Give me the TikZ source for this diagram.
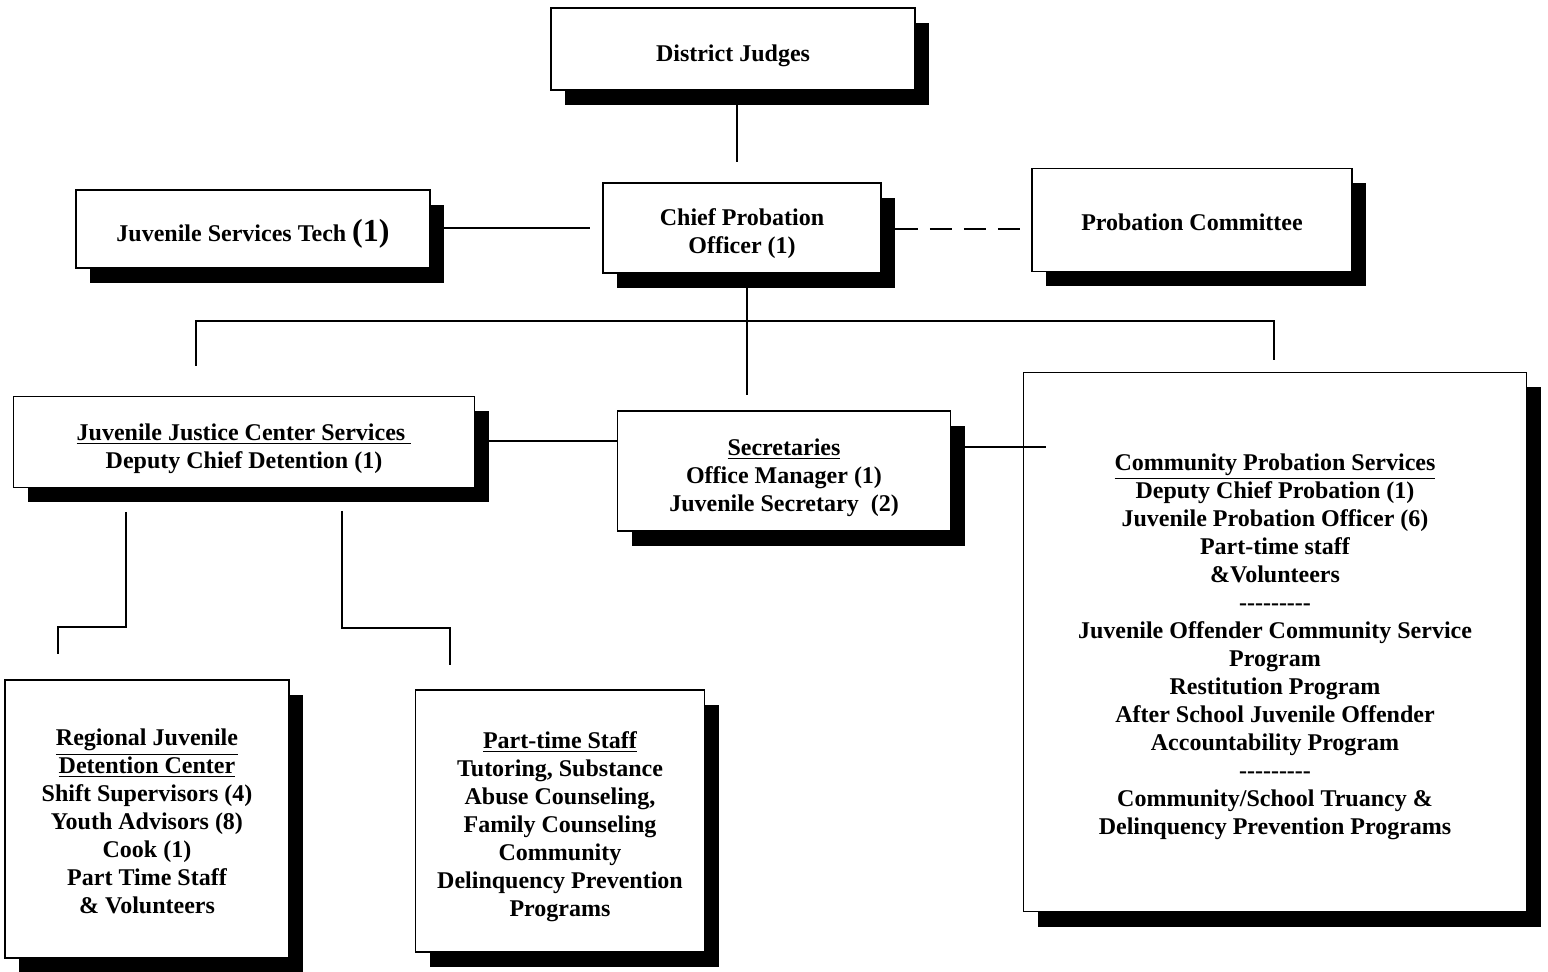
\documentclass[tikz,border=0pt]{standalone}
\usepackage{fontspec}
\setmainfont{Liberation Serif}
\usetikzlibrary{shadows,calc}
\newcommand{\dashline}{{-}{-}{-}{-}{-}{-}{-}{-}{-}}
\newcommand{\tp}[1][14pt]{\rule{0pt}{#1}}
\begin{document}
\begin{tikzpicture}[x=0.5pt,y=-0.5pt,
  box/.style={draw, line width=0.9pt, fill=white, align=center, inner sep=0pt,
    font=\bfseries\fontsize{12}{14}\selectfont,
    drop shadow={shadow xshift=7pt, shadow yshift=-7.5pt, fill=black, opacity=1}},
  conn/.style={line width=1.4pt}]
\useasboundingbox (0,0) rectangle (1548,972);

% boxes
\node[box, minimum width=182pt, minimum height=41pt] (DJ) at (733,49) {\tp[15pt]District Judges};
\node[box, minimum width=139pt, minimum height=45pt] (CPO) at (742,228) {\tp Chief Probation\\Officer (1)};
\node[box, minimum width=177pt, minimum height=39pt] (JST) at (253,229) {\tp[16pt]Juvenile Services Tech {\fontsize{16}{16}\selectfont(1)}};
\node[box, minimum width=160pt, minimum height=51.5pt] (PC) at (1192,220) {\tp[11pt]Probation Committee};
\node[box, minimum width=230.5pt, minimum height=45.5pt] (JJ) at (244,442) {\tp[15pt]\underline{Juvenile Justice Center Services\ }\\Deputy Chief Detention (1)};
\node[box, minimum width=166.5pt, minimum height=60pt] (SEC) at (784,471) {\tp[15pt]\underline{Secretaries}\\Office Manager (1)\\Juvenile Secretary\ \ (2)};
\node[box, minimum width=251.5pt, minimum height=269.5pt] (CPS) at (1275,642) {%
  \tp[13pt]\underline{Community Probation Services}\\
  Deputy Chief Probation (1)\\
  Juvenile Probation Officer (6)\\
  Part-time staff\\
  \&Volunteers\\
  \dashline\\
  Juvenile Offender Community Service\\
  Program\\
  Restitution Program\\
  After School Juvenile Offender\\
  Accountability Program\\
  \dashline\\
  Community/School Truancy \&\\
  Delinquency Prevention Programs};
\node[box, minimum width=142pt, minimum height=139pt] (RJ) at (147,819) {%
  \tp[11pt]\underline{Regional Juvenile}\\
  \underline{Detention Center}\\
  Shift Supervisors (4)\\
  Youth Advisors (8)\\
  Cook (1)\\
  Part Time Staff\\
  \& Volunteers};
\node[box, minimum width=144.5pt, minimum height=131pt] (PT) at (560,821) {%
  \tp[14pt]\underline{Part-time Staff}\\
  Tutoring, Substance\\
  Abuse Counseling,\\
  Family Counseling\\
  Community\\
  Delinquency Prevention\\
  Programs};

% free ends
\coordinate (djEnd) at (737,162);
\coordinate (jstEnd) at (590,228);
\coordinate (pcEnd) at (1021,229);
\coordinate (cpoEnd) at (747,395);
\coordinate (busL) at (196,321);
\coordinate (busR) at (1274,321);
\coordinate (dropL) at (196,366);
\coordinate (dropR) at (1274,360);
\coordinate (jjSec) at (617,441);
\coordinate (secEnd) at (1046,447);
\coordinate (l1) at (126,512);
\coordinate (l2) at (126,627);
\coordinate (l3) at (58,627);
\coordinate (l4) at (58,654);
\coordinate (r1) at (342,511);
\coordinate (r2) at (342,628);
\coordinate (r3) at (450,628);
\coordinate (r4) at (450,665);

% connectors
\draw[conn] (DJ.south -| djEnd) -- (djEnd);
\draw[conn] (JST.east |- jstEnd) -- (jstEnd);
\draw[conn, dash pattern=on 11pt off 6pt] ($(CPO.east |- pcEnd)+(14,0)$) -- (pcEnd);
\draw[conn] (CPO.east |- pcEnd) -- ++(30,0);
\draw[conn] (CPO.south -| cpoEnd) -- (cpoEnd);
\draw[conn] (dropL) -- (busL) -- (busR) -- (dropR);
\draw[conn] (JJ.east |- jjSec) -- (SEC.west |- jjSec);
\draw[conn] (SEC.east |- secEnd) -- (secEnd);
\draw[conn] (l1) -- (l2) -- (l3) -- (l4);
\draw[conn] (r1) -- (r2) -- (r3) -- (r4);
\end{tikzpicture}
\end{document}
